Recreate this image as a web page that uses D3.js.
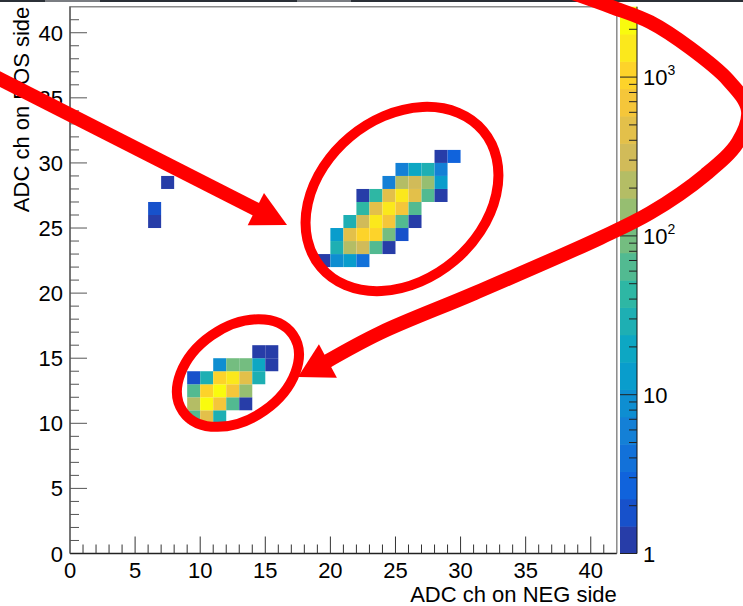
<!DOCTYPE html>
<html>
<head>
<meta charset="utf-8">
<script src="https://cdn.jsdelivr.net/npm/d3@7"></script>
<style>
html, body { margin: 0; padding: 0; background: #fff; overflow: hidden; }
svg { display: block; }
text { font-family: "Liberation Sans", Arial, Helvetica, sans-serif; fill: #000; }
</style>
</head>
<body>
<svg id="chart" width="743" height="606"></svg>
<script>

// 2D histogram bins : ADC ch on NEG side (x), ADC ch on POS side (y), entries
var binX = [19,20,21,22,  20,21,22,23,24,  20,21,22,23,24,25,  21,22,23,24,25,26,
            22,23,24,25,26,  22,23,24,25,26,27,28,  24,25,26,27,28,  25,26,27,28,  28,29,
            9,10,11,  9,10,11,12,13,  9,10,11,12,13,  9,10,11,12,13,14,  11,12,13,14,15,  14,15,
            7, 6, 6]
var binY = [22,22,22,22,  23,23,23,23,23,  24,24,24,24,24,24,  25,25,25,25,25,25,
            26,26,26,26,26,  27,27,27,27,27,27,27,  28,28,28,28,28,  29,29,29,29,  30,30,
            10,10,10,  11,11,11,11,11,  12,12,12,12,12,  13,13,13,13,13,13,  14,14,14,14,14,  15,15,
            28, 26, 25]
var binCount = [1,9,13,4,  29,210,312,64,1,  13,463,1023,1023,95,2,  29,312,1521,689,64,1,
            43,463,1521,689,64,  1,43,463,1521,463,64,1,  6,210,312,141,13,  6,19,29,6,  1,3,
            64,463,29,  210,2259,689,64,1,  64,1023,2259,689,141,  2,29,1023,1521,463,29,  9,95,95,19,1,  1,1,
            1, 2, 1]

var xTicks = [0,5,10,15,20,25,30,35,40]
var yTicks = [0,5,10,15,20,25,30,35,40]
var zMajor = [1,10,100,1000]
var zLabels = [["1",""],["10",""],["10","2"],["10","3"]]
var zMax = 2775
var nContours = 20

// ROOT kBird palette
var birdStops = [0.0000, 0.1250, 0.2500, 0.3750, 0.5000, 0.6250, 0.7500, 0.8750, 1.0000]
var birdRed   = [0.2082, 0.0592, 0.0780, 0.0232, 0.1802, 0.5301, 0.8186, 0.9956, 0.9764]
var birdGreen = [0.1664, 0.3599, 0.5041, 0.6419, 0.7178, 0.7492, 0.7328, 0.7862, 0.9832]
var birdBlue  = [0.5293, 0.8684, 0.8385, 0.7914, 0.6425, 0.4662, 0.3499, 0.1968, 0.0539]

// red hand-drawn annotations, in axis units
var arrowX = [-6.14, 16.67]
var arrowY = [36.83, 25.23]
var ellipseCx = [25.5, 12.9]
var ellipseCy = [27.23, 13.86]
var ellipseA = [8.14, 5.15]
var ellipseB = [6.22, 3.53]
var ellipseAngle = [40, 35]
var loopX = [38.40, 41.63, 44.55, 47.62, 50.54, 52.07, 51.31, 48.77, 44.55, 40.71, 31.11, 23.81, 17.51]
var loopY = [43.13, 41.97, 40.82, 38.83, 36.37, 34.06, 31.60, 29.07, 26.15, 24.23, 20.01, 16.94, 13.56]

var svg = d3.select("#chart")
var fontSize = 22

var x = d3.scaleLinear().domain([0, 42]).range([70, 616.8])
var y = d3.scaleLinear().domain([0, 42]).range([553.5, 6.7])
var z = d3.scaleLog().domain([1, zMax]).range([553.5, 6.7])

var bird = d3.scaleLinear()
  .domain(birdStops)
  .range(birdStops.map((s, i) => d3.rgb(birdRed[i]*255, birdGreen[i]*255, birdBlue[i]*255)))

function bandColor(i) {
  return bird(Math.floor((i + 0.99) * 255 / nContours) / 254)
}
function bandOf(v) {
  var b = Math.floor(Math.log10(v) / Math.log10(zMax) * nContours)
  return Math.max(0, Math.min(nContours - 1, b))
}

// screenshot strip at the very top
svg.append("rect").attr("x", 0).attr("y", 0).attr("width", 743).attr("height", 2).attr("fill", "#2b3037")
svg.append("rect").attr("x", 45).attr("y", 0).attr("width", 55).attr("height", 2).attr("fill", "#7a7d82")
svg.append("rect").attr("x", 297).attr("y", 0).attr("width", 54).attr("height", 2).attr("fill", "#7a7d82")

// bins
svg.append("g")
  .selectAll("rect")
  .data(binCount)
  .enter().append("rect")
  .attr("x", (d, i) => x(binX[i]))
  .attr("y", (d, i) => y(binY[i] + 1))
  .attr("width", (d, i) => x(binX[i] + 1) - x(binX[i]))
  .attr("height", (d, i) => y(binY[i]) - y(binY[i] + 1))
  .attr("fill", d => bandColor(bandOf(d)))

// frame
svg.append("path")
  .attr("d", `M${x(0)},${y(0)}V${y(42)}H${x(42)}V${y(0)}`)
  .attr("fill", "none").attr("stroke", "#8a8a8a").attr("stroke-width", 1.5)
svg.append("line")
  .attr("x1", x(0)).attr("x2", x(42)).attr("y1", y(0)).attr("y2", y(0))
  .attr("stroke", "#222").attr("stroke-width", 1.5)
svg.append("line")
  .attr("x1", x(0)).attr("x2", x(0)).attr("y1", y(0)).attr("y2", y(42))
  .attr("stroke", "#555").attr("stroke-width", 1.2)

// ticks (inside the frame, ROOT style)
var minor = d3.range(1, 42)
svg.append("g").selectAll("line").data(minor).enter().append("line")
  .attr("x1", d => x(d)).attr("x2", d => x(d))
  .attr("y1", y(0)).attr("y2", d => y(0) - (d % 5 == 0 ? 17 : 9))
  .attr("stroke", "#333").attr("stroke-width", 1)
svg.append("g").selectAll("line").data(minor).enter().append("line")
  .attr("y1", d => y(d)).attr("y2", d => y(d))
  .attr("x1", x(0)).attr("x2", d => x(0) + (d % 5 == 0 ? 17 : 9))
  .attr("stroke", "#555").attr("stroke-width", 1)

svg.append("g").selectAll("text").data(xTicks).enter().append("text")
  .attr("x", d => x(d)).attr("y", 578)
  .attr("text-anchor", "middle").attr("font-size", fontSize)
  .text(d => d)
svg.append("g").selectAll("text").data(yTicks).enter().append("text")
  .attr("x", 63).attr("y", d => y(d) + 8)
  .attr("text-anchor", "end").attr("font-size", fontSize)
  .text(d => d)

svg.append("text")
  .attr("x", x(42)).attr("y", 602)
  .attr("text-anchor", "end").attr("font-size", fontSize)
  .text("ADC ch on NEG side")
svg.append("text")
  .attr("transform", `translate(29,${y(42)}) rotate(-90)`)
  .attr("text-anchor", "end").attr("font-size", fontSize)
  .text("ADC ch on POS side")

// colour bar
var zLogMax = Math.log10(zMax)
var bands = d3.range(nContours)
var barX = 620, barW = 17
svg.append("g").selectAll("rect").data(bands).enter().append("rect")
  .attr("x", barX).attr("width", barW)
  .attr("y", d => z(Math.pow(10, (d + 1) * zLogMax / nContours)))
  .attr("height", d => z(Math.pow(10, d * zLogMax / nContours)) - z(Math.pow(10, (d + 1) * zLogMax / nContours)) + 0.5)
  .attr("fill", d => bandColor(d))
svg.append("line")
  .attr("x1", barX + barW).attr("x2", barX + barW).attr("y1", z(1)).attr("y2", z(zMax))
  .attr("stroke", "#111").attr("stroke-width", 1)
svg.append("g").selectAll("line").data(z.ticks()).enter().append("line")
  .attr("x1", barX + barW).attr("y1", d => z(d)).attr("y2", d => z(d))
  .attr("x2", d => zMajor.indexOf(d) >= 0 ? barX : barX + barW - 8)
  .attr("stroke", "#222").attr("stroke-width", 1)

var zText = svg.append("g").selectAll("text").data(zMajor).enter().append("text")
  .attr("x", 643).attr("y", d => z(d) + 8)
  .attr("font-size", fontSize)
zText.append("tspan").text((d, i) => zLabels[i][0])
zText.append("tspan").attr("dy", -10).attr("font-size", 14).text((d, i) => zLabels[i][1])

// annotations
var red = "#ff0000"
var ann = svg.append("g")

ann.selectAll("ellipse").data(ellipseCx).enter().append("ellipse")
  .attr("transform", (d, i) => `translate(${x(d)},${y(ellipseCy[i])}) rotate(${-ellipseAngle[i]})`)
  .attr("rx", (d, i) => x(ellipseA[i]) - x(0))
  .attr("ry", (d, i) => x(ellipseB[i]) - x(0))
  .attr("fill", "none").attr("stroke", red).attr("stroke-width", 10)

function arrowHead(from, tip, len, half) {
  var dx = tip[0] - from[0], dy = tip[1] - from[1]
  var n = Math.hypot(dx, dy)
  dx /= n; dy /= n
  var bx = tip[0] - len * dx, by = tip[1] - len * dy
  return {
    base: [bx + 3 * dx, by + 3 * dy],
    pts: [tip, [bx - half * dy, by + half * dx], [bx + half * dy, by - half * dx]]
  }
}

var a1 = [[x(arrowX[0]), y(arrowY[0])], [x(arrowX[1]), y(arrowY[1])]]
var h1 = arrowHead(a1[0], a1[1], 35, 18)
ann.append("path")
  .attr("d", d3.line()([a1[0], h1.base]))
  .attr("fill", "none").attr("stroke", red).attr("stroke-width", 14)
ann.append("path")
  .attr("d", d3.line()(h1.pts) + "Z")
  .attr("fill", red)

var loopPts = loopX.map((d, i) => [x(d), y(loopY[i])])
var tip2 = loopPts[loopPts.length - 1]
var h2 = arrowHead(loopPts[loopPts.length - 2], tip2, 34, 19)
var shaft2 = loopPts.slice(0, -1).concat([h2.base])
ann.append("path")
  .attr("d", d3.line().curve(d3.curveCatmullRom)(shaft2))
  .attr("fill", "none").attr("stroke", red).attr("stroke-width", 14)
ann.append("path")
  .attr("d", d3.line()(h2.pts) + "Z")
  .attr("fill", red)

</script>
</body>
</html>
